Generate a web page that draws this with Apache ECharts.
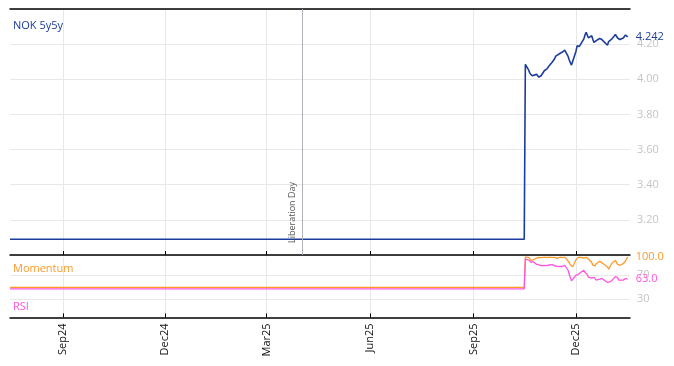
<!DOCTYPE html>
<html>
<head>
<meta charset="utf-8">
<script src="https://cdn.jsdelivr.net/npm/echarts@6/dist/echarts.min.js"></script>
<style>
html,body{margin:0;padding:0;background:#fff;}
#chart{width:674px;height:366px;}
</style>
</head>
<body>
<div id="chart"></div>
<script>
// ---- data ----
const dates = [
  '2024-07-16','2025-10-16',
  '2025-10-17','2025-10-20','2025-10-21','2025-10-22','2025-10-23','2025-10-24','2025-10-27','2025-10-28','2025-10-29','2025-10-30','2025-10-31',
  '2025-11-03','2025-11-04','2025-11-05','2025-11-06','2025-11-07','2025-11-10','2025-11-11','2025-11-12','2025-11-13','2025-11-14',
  '2025-11-17','2025-11-18','2025-11-19','2025-11-20','2025-11-21','2025-11-24','2025-11-25','2025-11-26','2025-11-27','2025-11-28',
  '2025-12-01','2025-12-02','2025-12-03','2025-12-04','2025-12-05','2025-12-08','2025-12-09','2025-12-10','2025-12-11','2025-12-12',
  '2025-12-15','2025-12-16','2025-12-17','2025-12-18','2025-12-19','2025-12-22','2025-12-23','2025-12-24','2025-12-29','2025-12-30','2025-12-31',
  '2026-01-02','2026-01-05','2026-01-06','2026-01-07','2026-01-08','2026-01-09','2026-01-12','2026-01-13','2026-01-14','2026-01-15','2026-01-16'
];
const nok5y5y = [
  3.09, 3.09,
  4.085, 4.052, 4.034, 4.024, 4.020, 4.022, 4.028, 4.020, 4.012, 4.006, 4.020,
  4.050, 4.056, 4.058, 4.064, 4.076, 4.098, 4.108, 4.117, 4.132, 4.140,
  4.148, 4.152, 4.155, 4.160, 4.166, 4.130, 4.110, 4.095, 4.081, 4.082,
  4.160, 4.190, 4.190, 4.187, 4.185, 4.230, 4.252, 4.268, 4.266, 4.236,
  4.248, 4.226, 4.210, 4.207, 4.220, 4.232, 4.226, 4.226, 4.194, 4.215, 4.222,
  4.230, 4.255, 4.245, 4.235, 4.245, 4.226, 4.235, 4.245, 4.252, 4.258, 4.242
];
const momentum = [
  49.5, 49.5,
  100, 99, 97, 94, 92, 95, 98, 99.5, 99, 99, 98.5,
  99.5, 99, 98.5, 99, 99.5, 99, 98.5, 99, 98, 97.5,
  99.5, 99, 98.5, 99, 99.5, 93, 89.7, 87, 84, 83.5,
  95, 97.9, 99, 99.5, 99, 98, 98.5, 99, 98, 96.4,
  90.5, 86.1, 84.5, 85, 88.6, 92.4, 91.3, 90.3, 83.2, 79.4, 77.8,
  89.7, 94, 90.8, 87.6, 86.5, 86, 88.6, 89.7, 93, 96.8, 100
];
const rsi = [
  47, 47,
  96, 94.5, 93, 91, 91, 92, 87.6, 87.6, 86.5, 84.8, 85.4,
  86, 84.8, 85.4, 86, 86.5, 87, 85.4, 84.8, 84.8, 84.3,
  84, 84.5, 84, 84.5, 85.9, 77.8, 70.7, 65.3, 60.4, 59.8,
  69.6, 68.5, 70.7, 71.8, 74, 77.8, 74, 75.1, 70.7, 66.3,
  64.7, 65.3, 66.3, 65.3, 61.5, 63.1, 64.2, 64.2, 57.6, 58, 58.7,
  61, 67.4, 68.5, 65.8, 61.5, 59.3, 61.5, 63.1, 64.2, 63.6, 63.0
];
const xTickDates = ['2024-09-01','2024-12-01','2025-03-01','2025-06-01','2025-09-01','2025-12-01'];
const xRange = ['2024-07-16','2026-01-18'];
const lowerTicks = [30, 70];
const eventDate = '2025-04-02';
const eventName = 'Liberation Day';
const seriesNames = ['NOK 5y5y', 'Momentum', 'RSI'];

// ---- helpers ----
function ts(s){ const p = s.split('-').map(Number); return new Date(p[0], p[1]-1, p[2]).getTime(); }
const MONTHS = ['Jan','Feb','Mar','Apr','May','Jun','Jul','Aug','Sep','Oct','Nov','Dec'];
function fmtX(v){ const d = new Date(v); return MONTHS[d.getMonth()] + String(d.getFullYear()).slice(2); }
function pairs(vals){ return dates.map((d,i)=>[ts(d), vals[i]]); }

const BLUE = '#1c3d9c', ORANGE = '#ff9a2a', PINK = '#ff55dd';
const FONT = 'Open Sans';
const xMin = ts(xRange[0]), xMax = ts(xRange[1]);
const xTicks = xTickDates.map(ts);
const gridLine = {show:true, lineStyle:{color:'#e8e8e8', width:1}};

const chart = echarts.init(document.getElementById('chart'), null, {renderer:'canvas'});
chart.setOption({
  animation:false,
  textStyle:{fontFamily:FONT},
  title:[
    {text:seriesNames[0], left:13, top:20, padding:0, textStyle:{color:BLUE, fontSize:11, fontWeight:'normal', fontFamily:FONT}},
    {text:seriesNames[1], left:13, top:263, padding:0, textStyle:{color:ORANGE, fontSize:11, fontWeight:'normal', fontFamily:FONT}},
    {text:seriesNames[2], left:13, top:301, padding:0, textStyle:{color:PINK, fontSize:11, fontWeight:'normal', fontFamily:FONT}}
  ],
  grid:[
    {left:10, right:44, top:9, height:246},
    {left:10, right:44, top:256.8, height:60.6}
  ],
  xAxis:[
    {type:'value', gridIndex:0, min:xMin, max:xMax, position:'bottom',
     axisLine:{show:true, onZero:false, lineStyle:{color:'#000', width:1.5}},
     axisTick:{show:true, inside:true, length:4, customValues:xTicks, lineStyle:{color:'#000'}},
     axisLabel:{show:false, customValues:xTicks},
     splitLine:gridLine},
    {type:'value', gridIndex:0, min:xMin, max:xMax, position:'top',
     axisLine:{show:true, onZero:false, lineStyle:{color:'#000', width:1.5}},
     axisTick:{show:false}, axisLabel:{show:false}, splitLine:{show:false}},
    {type:'value', gridIndex:1, min:xMin, max:xMax, position:'bottom',
     axisLine:{show:true, onZero:false, lineStyle:{color:'#000', width:1.5}},
     axisTick:{show:true, inside:true, length:4, customValues:xTicks, lineStyle:{color:'#000'}},
     axisLabel:{show:true, customValues:xTicks, rotate:90, margin:6, color:'#111', fontSize:11, fontFamily:FONT, formatter:fmtX},
     splitLine:gridLine}
  ],
  yAxis:[
    {type:'value', gridIndex:0, position:'right', min:3.0, max:4.4, interval:0.2,
     axisLine:{show:false}, axisTick:{show:false},
     axisLabel:{color:'#c4c4c4', fontSize:11, margin:7, showMinLabel:false, showMaxLabel:false, fontFamily:FONT,
       formatter:v=>v.toFixed(2)},
     splitLine:gridLine},
    {type:'value', gridIndex:1, position:'right', min:0, max:100,
     axisLine:{show:false},
     axisTick:{show:false, customValues:lowerTicks},
     axisLabel:{color:'#c4c4c4', fontSize:11, margin:7, customValues:lowerTicks, fontFamily:FONT},
     splitLine:gridLine}
  ],
  series:[
    {name:seriesNames[0], type:'line', xAxisIndex:0, yAxisIndex:0, data:pairs(nok5y5y),
     showSymbol:false, symbol:'none', lineStyle:{color:BLUE, width:1.6}, itemStyle:{color:BLUE},
     endLabel:{show:true, color:BLUE, fontSize:11, distance:8, fontFamily:FONT, formatter:p=>p.value[1].toFixed(3)},
     markLine:{symbol:'none', silent:true, animation:false,
       lineStyle:{color:'#b0b0b8', width:1, type:'solid'},
       label:{show:true, formatter:eventName, position:'insideStartTop', color:'#555', fontSize:9, fontFamily:FONT, distance:[12,6]},
       data:[{xAxis:ts(eventDate)}]}},
    {name:seriesNames[1], type:'line', xAxisIndex:2, yAxisIndex:1, data:pairs(momentum),
     showSymbol:false, symbol:'none', lineStyle:{color:ORANGE, width:1.3}, itemStyle:{color:ORANGE},
     endLabel:{show:true, color:ORANGE, fontSize:11, distance:8, fontFamily:FONT, formatter:p=>p.value[1].toFixed(1)}},
    {name:seriesNames[2], type:'line', xAxisIndex:2, yAxisIndex:1, data:pairs(rsi),
     showSymbol:false, symbol:'none', lineStyle:{color:PINK, width:1.3}, itemStyle:{color:PINK},
     endLabel:{show:true, color:PINK, fontSize:11, distance:8, fontFamily:FONT, formatter:p=>p.value[1].toFixed(1)}}
  ]
});
</script>
</body>
</html>
